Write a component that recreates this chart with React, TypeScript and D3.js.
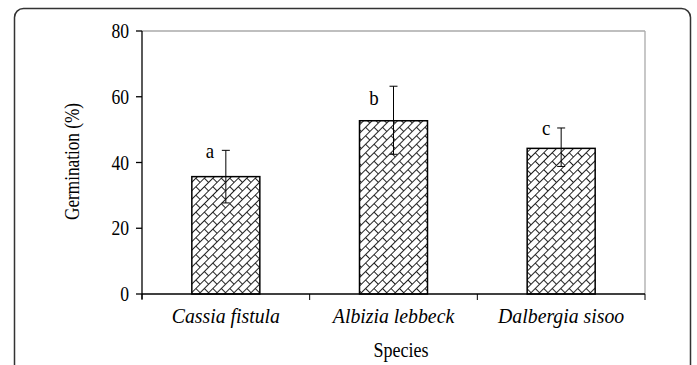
import React from "react";
import * as d3 from "d3";

const categories = ["Cassia fistula", "Albizia lebbeck", "Dalbergia sisoo"];
const values = [35.7, 52.7, 44.3];
const errLow = [27.7, 42.5, 38.8];
const errHigh = [43.7, 63.2, 50.5];
const letters = ["a", "b", "c"];
const letterY = [41.4, 57.5, 48.4];
const letterDx = [-16, -19.5, -15];
const yTicks = [0, 20, 40, 60, 80];

const W = 697, H = 365;
const left = 142, right = 645, top = 31, bottom = 294;

export default function App() {
  const x = d3.scaleBand<string>().domain(categories).range([left, right]).paddingInner(0).paddingOuter(0);
  const y = d3.scaleLinear().domain([0, 80]).range([bottom, top]);
  const bw = 68;
  const font = "Liberation Serif, Times New Roman, DejaVu Serif, serif";
  const boundaries = [left, ...categories.map((c) => (x(c) as number) + x.bandwidth())];
  return (
    <svg width={W} height={H} style={{ position: "absolute", left: 0, top: 0, background: "#fff", fontFamily: font }}>
      <defs>
        <pattern id="brick" width="12" height="12" patternUnits="userSpaceOnUse" patternTransform="rotate(-45)">
          <rect width="12" height="12" fill="#fff" />
          <line x1="0" y1="0.5" x2="12" y2="0.5" stroke="#222" strokeWidth="1" />
          <line x1="0" y1="6.5" x2="12" y2="6.5" stroke="#222" strokeWidth="1" />
          <line x1="0.5" y1="0" x2="0.5" y2="6.5" stroke="#222" strokeWidth="1" />
          <line x1="6.5" y1="6.5" x2="6.5" y2="12" stroke="#222" strokeWidth="1" />
        </pattern>
      </defs>
      <rect x={14.5} y={8.5} width={676} height={420} rx={9} fill="none" stroke="#333" strokeWidth={1.5} />
      <line x1={left} y1={top} x2={right} y2={top} stroke="#aaa" strokeWidth={1.3} />
      <line x1={right} y1={top} x2={right} y2={bottom} stroke="#aaa" strokeWidth={1.3} />
      {categories.map((c, i) => {
        const cx = (x(c) as number) + x.bandwidth() / 2;
        return (
          <g key={c}>
            <rect x={cx - bw / 2} y={y(values[i])} width={bw} height={bottom - y(values[i])} fill="url(#brick)" stroke="#000" strokeWidth={1.5} />
            <line x1={cx} x2={cx} y1={y(errLow[i])} y2={y(errHigh[i])} stroke="#000" strokeWidth={1} />
            <line x1={cx - 4} x2={cx + 4} y1={y(errLow[i])} y2={y(errLow[i])} stroke="#000" strokeWidth={1} />
            <line x1={cx - 4} x2={cx + 4} y1={y(errHigh[i])} y2={y(errHigh[i])} stroke="#000" strokeWidth={1} />
            <text transform={`translate(${cx + letterDx[i]},${y(letterY[i])}) scale(0.9,1)`} textAnchor="middle" fontSize={21}>{letters[i]}</text>
            <text transform={`translate(${cx},323) scale(0.9,1)`} textAnchor="middle" fontSize={22} fontStyle="italic">{c}</text>
          </g>
        );
      })}
      <line x1={left} y1={top} x2={left} y2={bottom + 5} stroke="#000" strokeWidth={1.3} />
      <line x1={left} y1={bottom} x2={right} y2={bottom} stroke="#000" strokeWidth={1.3} />
      {boundaries.map((b, i) => (
        <line key={i} x1={b} x2={b} y1={bottom} y2={bottom + 6} stroke="#000" strokeWidth={1} />
      ))}
      {yTicks.map((t) => (
        <g key={t}>
          <line x1={left - 6} x2={left} y1={y(t)} y2={y(t)} stroke="#000" strokeWidth={1.3} />
          <text transform={`translate(${left - 13},${y(t)}) scale(0.88,1)`} dy="0.35em" textAnchor="end" fontSize={20}>{t}</text>
        </g>
      ))}
      <text transform={`translate(72,${(top + bottom) / 2 - 1}) rotate(-90) scale(0.82,1)`} textAnchor="middle" dy="0.35em" fontSize={21}>Germination (%)</text>
      <text transform={`translate(401,357) scale(0.86,1)`} textAnchor="middle" fontSize={21}>Species</text>
    </svg>
  );
}
